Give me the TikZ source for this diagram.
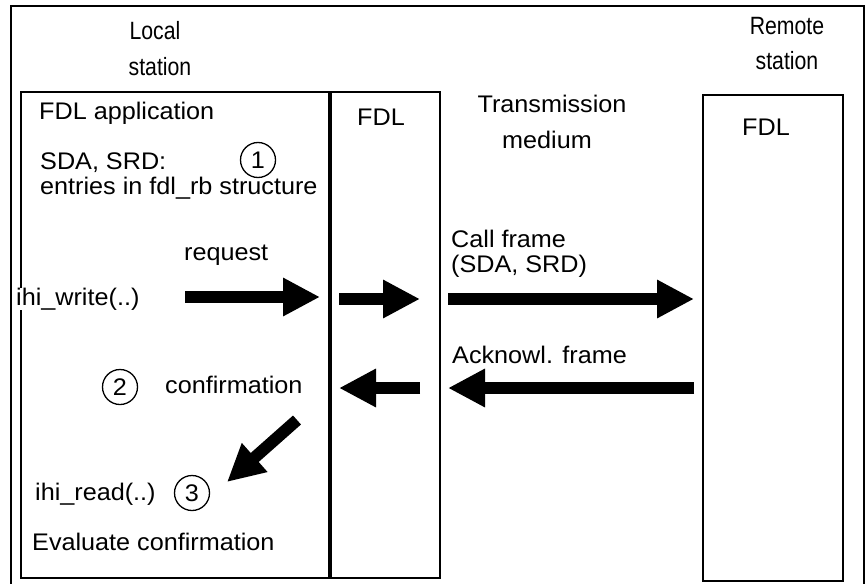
\documentclass[tikz,border=0pt]{standalone}
\usepackage{fontspec}
\setmainfont[FakeStretch=1.05]{Liberation Sans}
\newfontfamily\narrowfont[FakeStretch=0.85]{Liberation Sans}
\usetikzlibrary{arrows.meta}
\begin{document}
\begin{tikzpicture}[x=1pt,y=-1pt,
  txt/.style={font=\fontsize{24}{28}\selectfont, inner sep=0pt, anchor=base west},
  ctxt/.style={txt, anchor=base},
  toplbl/.style={font=\narrowfont\fontsize{25}{29}\selectfont, inner sep=0pt, anchor=base},
  frame/.style={draw, line width=2pt},
  boxline/.style={draw, line width=2.2pt},
  divider/.style={draw, line width=4pt},
  num/.style={draw, circle, line width=1.3pt, minimum size=35pt, inner sep=0pt, font=\fontsize{24}{28}\selectfont},
  bigarrow/.style={line width=12pt, -{Triangle[length=37pt,width=36pt]}},
]
\useasboundingbox (0,0) rectangle (866,583);
\clip (0,0) rectangle (866,583);
\draw[frame] (11,6) rectangle (864,600);

% boxes
\draw[boxline] (21,92) rectangle (440,578);
\draw[divider] (330,92) -- (330,578);
\draw[boxline] (703,95) rectangle (843,581);

% top labels
\node[toplbl] (loc1) at (155,40) {Local};
\node[toplbl] (loc2) at (160,76) {station};
\node[toplbl] (rem1) at (787,35) {Remote};
\node[toplbl] (rem2) at (787,70) {station};

% texts
\node[txt] (app) at (39,119) {FDL application};
\node[txt] (sda) at (40,169) {SDA, SRD:};
\node[num] (c1) at (258,160) {1};
\node[txt] (entries) at (40,194) {entries in fdl\_rb structure};
\node[txt] (fdlmid) at (357,125) {FDL};
\node[ctxt] (trans) at (552,113) {Transmission};
\node[ctxt] (medium) at (547,148) {medium};
\node[ctxt] (fdlrem) at (766,135) {FDL};
\node[txt] (req) at (184,260) {request};
\node[txt, fill=white, inner xsep=1pt] (write) at (15,305) {ihi\_write(..)};
\node[txt] (call1) at (451,247) {Call frame};
\node[txt] (call2) at (451,272) {(SDA, SRD)};
\node[txt] (ack) at (452,363) {Acknowl. frame};
\node[num] (c2) at (120,387) {2};
\node[txt] (conf) at (165,393) {confirmation};
\node[txt] (read) at (35,500) {ihi\_read(..)};
\node[num] (c3) at (192,493) {3};
\node[txt] (eval) at (32,550) {Evaluate confirmation};

% arrow end points
\coordinate (rqA) at (185,297);
\coordinate (rqB) at (320,297);
\coordinate (f1A) at (339,299);
\coordinate (f1B) at (420,299);
\coordinate (cfA) at (448,299);
\coordinate (cfB) at (694,299);
\coordinate (akA) at (694,388);
\coordinate (akB) at (448,388);
\coordinate (f2A) at (420,388);
\coordinate (f2B) at (339,388);
\coordinate (dgA) at (297,420);
\coordinate (dgB) at (227,482);

\draw[bigarrow] (rqA) -- (rqB);
\draw[bigarrow] (f1A) -- (f1B);
\draw[bigarrow] (cfA) -- (cfB);
\draw[bigarrow] (akA) -- (akB);
\draw[bigarrow] (f2A) -- (f2B);
\draw[bigarrow] (dgA) -- (dgB);
\end{tikzpicture}
\end{document}
